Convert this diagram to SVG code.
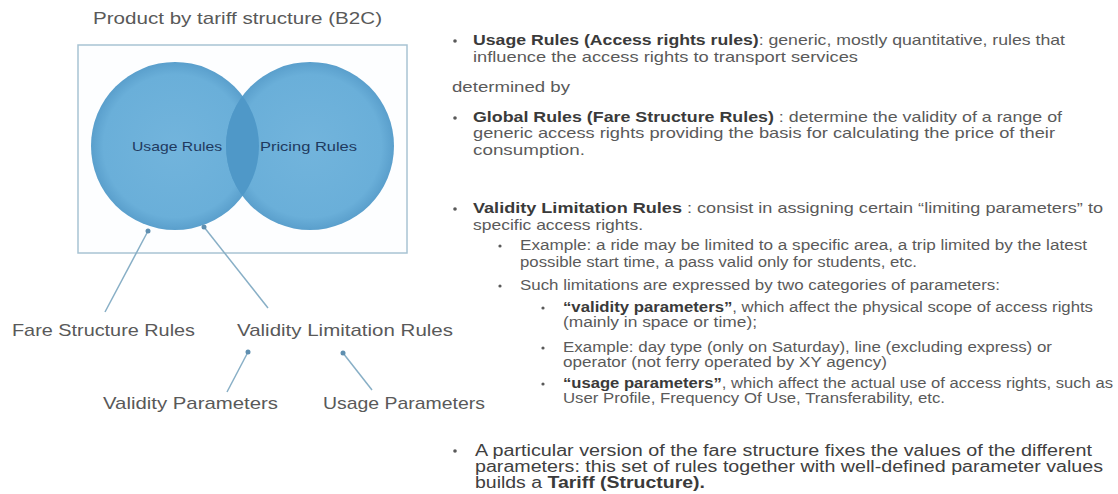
<svg xmlns="http://www.w3.org/2000/svg" width="1118" height="494" viewBox="0 0 1118 494">
<style>
  .lbl { font-family: "Liberation Sans", Arial, sans-serif; fill: #595959; }
  .title { font-size: 17px; }
  .big { font-size: 17px; }
  .circ { font-family: "Liberation Sans", Arial, sans-serif; font-size: 13px; fill: #1f3a5f; }
  .txt { font-family: "Liberation Sans", Arial, sans-serif; font-size: 15px; fill: #5a5a5a; }
  .sub { font-size: 14px; }
  .b { font-weight: bold; fill: #3a3a3a; }
  .dark { fill: #404040; font-size: 16px; }
  .conn { stroke: #88afc6; stroke-width: 1.5; fill: none; marker-start: url(#dot); }
  .bul { fill: #595959; }
</style>
<defs>
  <marker id="dot" viewBox="0 0 6 6" refX="3" refY="3" markerWidth="4" markerHeight="4" markerUnits="strokeWidth">
    <circle cx="3" cy="3" r="2.5" fill="#5f8fb0"/>
  </marker>
  <radialGradient id="g" cx="50%" cy="50%" r="50%">
    <stop offset="0" stop-color="#72b4dc"/>
    <stop offset="0.85" stop-color="#6aafd9"/>
    <stop offset="1" stop-color="#5a9fcc"/>
  </radialGradient>
  <clipPath id="clipR"><circle cx="310" cy="146" r="84"/></clipPath>
</defs>

<rect width="1118" height="494" fill="#ffffff"/>

<g id="title"><text class="lbl title" x="93" y="24" textLength="289" lengthAdjust="spacingAndGlyphs">Product by tariff structure (B2C)</text></g>

<g id="frame"><rect x="78" y="45" width="329" height="208" fill="#fdfeff" stroke="#a8c3d3" stroke-width="1.5"/></g>

<g id="usage-rules">
  <circle cx="175" cy="146" r="84" fill="url(#g)"/>
  <text class="circ" x="132" y="151" textLength="90" lengthAdjust="spacingAndGlyphs">Usage Rules</text>
</g>
<g id="pricing-rules">
  <circle cx="310" cy="146" r="84" fill="url(#g)"/>
  <circle cx="175" cy="146" r="84" fill="#4f98c8" clip-path="url(#clipR)"/>
  <text class="circ" x="260" y="151" textLength="97" lengthAdjust="spacingAndGlyphs">Pricing Rules</text>
</g>

<g id="connectors">
  <line class="conn" x1="148" y1="231" x2="105" y2="312"/>
  <line class="conn" x1="204" y1="227" x2="268" y2="308"/>
  <line class="conn" x1="248" y1="352" x2="227" y2="392"/>
  <line class="conn" x1="343" y1="353" x2="372" y2="390"/>
</g>

<g id="fare-structure-rules"><text class="lbl big" x="12" y="336" textLength="183" lengthAdjust="spacingAndGlyphs">Fare Structure Rules</text></g>
<g id="validity-limitation-rules"><text class="lbl big" x="237" y="336" textLength="216" lengthAdjust="spacingAndGlyphs">Validity Limitation Rules</text></g>
<g id="validity-parameters"><text class="lbl big" x="103" y="409" textLength="175" lengthAdjust="spacingAndGlyphs">Validity Parameters</text></g>
<g id="usage-parameters"><text class="lbl big" x="323" y="409" textLength="162" lengthAdjust="spacingAndGlyphs">Usage Parameters</text></g>

<g id="description">
  <circle class="bul" cx="455" cy="41" r="1.8"/>
  <text class="txt" x="473" y="45" textLength="592" lengthAdjust="spacingAndGlyphs"><tspan class="b">Usage Rules (Access rights rules)</tspan>: generic, mostly quantitative, rules that</text>
  <text class="txt" x="473" y="62" textLength="385" lengthAdjust="spacingAndGlyphs">influence the access rights to transport services</text>

  <text class="txt" x="452" y="92" textLength="118" lengthAdjust="spacingAndGlyphs">determined by</text>

  <circle class="bul" cx="455" cy="118" r="1.8"/>
  <text class="txt" x="473" y="122" textLength="589" lengthAdjust="spacingAndGlyphs"><tspan class="b">Global Rules (Fare Structure Rules)</tspan> : determine the validity of a range of</text>
  <text class="txt" x="473" y="138" textLength="582" lengthAdjust="spacingAndGlyphs">generic access rights providing the basis for calculating the price of their</text>
  <text class="txt" x="473" y="155" textLength="112" lengthAdjust="spacingAndGlyphs">consumption.</text>

  <circle class="bul" cx="455" cy="209" r="1.8"/>
  <text class="txt" x="473" y="213" textLength="630" lengthAdjust="spacingAndGlyphs"><tspan class="b">Validity Limitation Rules</tspan> : consist in assigning certain “limiting parameters” to</text>
  <text class="txt" x="473" y="230" textLength="170" lengthAdjust="spacingAndGlyphs">specific access rights.</text>

  <circle class="bul" cx="500" cy="246" r="1.6"/>
  <text class="txt sub" x="520" y="250" textLength="567" lengthAdjust="spacingAndGlyphs">Example: a ride may be limited to a specific area, a trip limited by the latest</text>
  <text class="txt sub" x="520" y="267" textLength="397" lengthAdjust="spacingAndGlyphs">possible start time, a pass valid only for students, etc.</text>

  <circle class="bul" cx="500" cy="286" r="1.6"/>
  <text class="txt sub" x="520" y="290" textLength="480" lengthAdjust="spacingAndGlyphs">Such limitations are expressed by two categories of parameters:</text>

  <circle class="bul" cx="543" cy="308" r="1.6"/>
  <text class="txt sub" x="563" y="312" textLength="530" lengthAdjust="spacingAndGlyphs"><tspan class="b">“validity parameters”</tspan>, which affect the physical scope of access rights</text>
  <text class="txt sub" x="563" y="327" textLength="194" lengthAdjust="spacingAndGlyphs">(mainly in space or time);</text>

  <circle class="bul" cx="543" cy="348" r="1.6"/>
  <text class="txt sub" x="563" y="352" textLength="489" lengthAdjust="spacingAndGlyphs">Example: day type (only on Saturday), line (excluding express) or</text>
  <text class="txt sub" x="563" y="367" textLength="324" lengthAdjust="spacingAndGlyphs">operator (not ferry operated by XY agency)</text>

  <circle class="bul" cx="543" cy="384" r="1.6"/>
  <text class="txt sub" x="563" y="388" textLength="550" lengthAdjust="spacingAndGlyphs"><tspan class="b">“usage parameters”</tspan>, which affect the actual use of access rights, such as</text>
  <text class="txt sub" x="563" y="403" textLength="382" lengthAdjust="spacingAndGlyphs">User Profile, Frequency Of Use, Transferability, etc.</text>

  <circle class="bul" cx="455" cy="451" r="1.8"/>
  <text class="txt dark" x="475" y="456" textLength="617" lengthAdjust="spacingAndGlyphs">A particular version of the fare structure fixes the values of the different</text>
  <text class="txt dark" x="475" y="472" textLength="628" lengthAdjust="spacingAndGlyphs">parameters: this set of rules together with well-defined parameter values</text>
  <text class="txt dark" x="475" y="488" textLength="230" lengthAdjust="spacingAndGlyphs">builds a <tspan class="b">Tariff (Structure).</tspan></text>
</g>
</svg>
